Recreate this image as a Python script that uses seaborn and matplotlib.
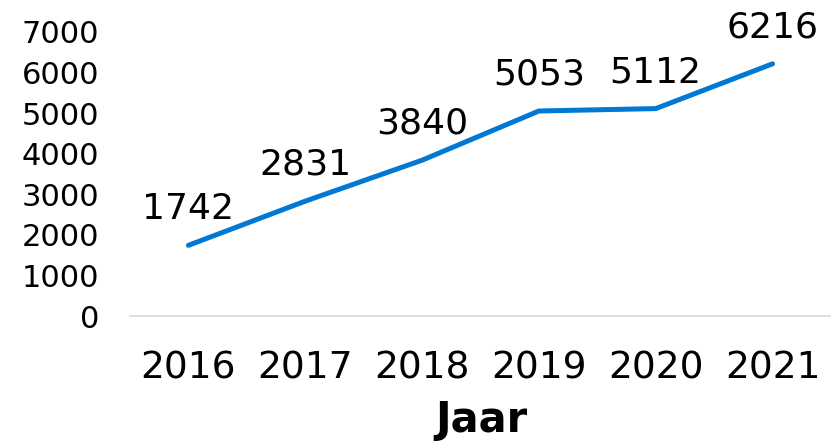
import pandas as pd
import matplotlib
matplotlib.use('Agg')
import matplotlib.pyplot as plt
import seaborn as sns

# Chart data
years = ['2016', '2017', '2018', '2019', '2020', '2021']
values = [1742, 2831, 3840, 5053, 5112, 6216]

df = pd.DataFrame({'Jaar': years, 'Aantal': values})

sns.set_style('white')
plt.rcParams['font.family'] = ['DejaVu Sans']
plt.rcParams['text.color'] = 'black'
plt.rcParams['xtick.color'] = 'black'
plt.rcParams['ytick.color'] = 'black'

fig = plt.figure(figsize=(8.31, 4.41), dpi=100)
ax = fig.add_axes([130 / 831, 125 / 441, 701 / 831, 284 / 441])

sns.lineplot(data=df, x='Jaar', y='Aantal', ax=ax, color='#0078D4',
             linewidth=3.6, solid_capstyle='round')

# data labels above each point
for i, v in enumerate(values):
    ax.annotate(str(v), (i, v), xytext=(0, 19), textcoords='offset points',
                ha='center', va='baseline', fontsize=26, color='black',
                clip_on=False)

ax.set_xlim(-0.5, 5.5)
ax.set_ylim(0, 7000)
ax.set_yticks(range(0, 7001, 1000))
ax.tick_params(axis='y', labelsize=22, length=0, pad=22, labelcolor='black')
ax.tick_params(axis='x', labelsize=27, length=0, pad=25, labelcolor='black')
ax.set_xlabel('')
ax.set_ylabel('')

for s in ['top', 'right', 'left']:
    ax.spines[s].set_visible(False)
ax.spines['bottom'].set_color('#D9D9D9')
ax.spines['bottom'].set_linewidth(1.2)

fig.text(481 / 831, 9 / 441, 'Jaar', ha='center', va='baseline',
         fontsize=30, fontweight='bold', color='black')

fig.savefig('out.png', dpi=100)
